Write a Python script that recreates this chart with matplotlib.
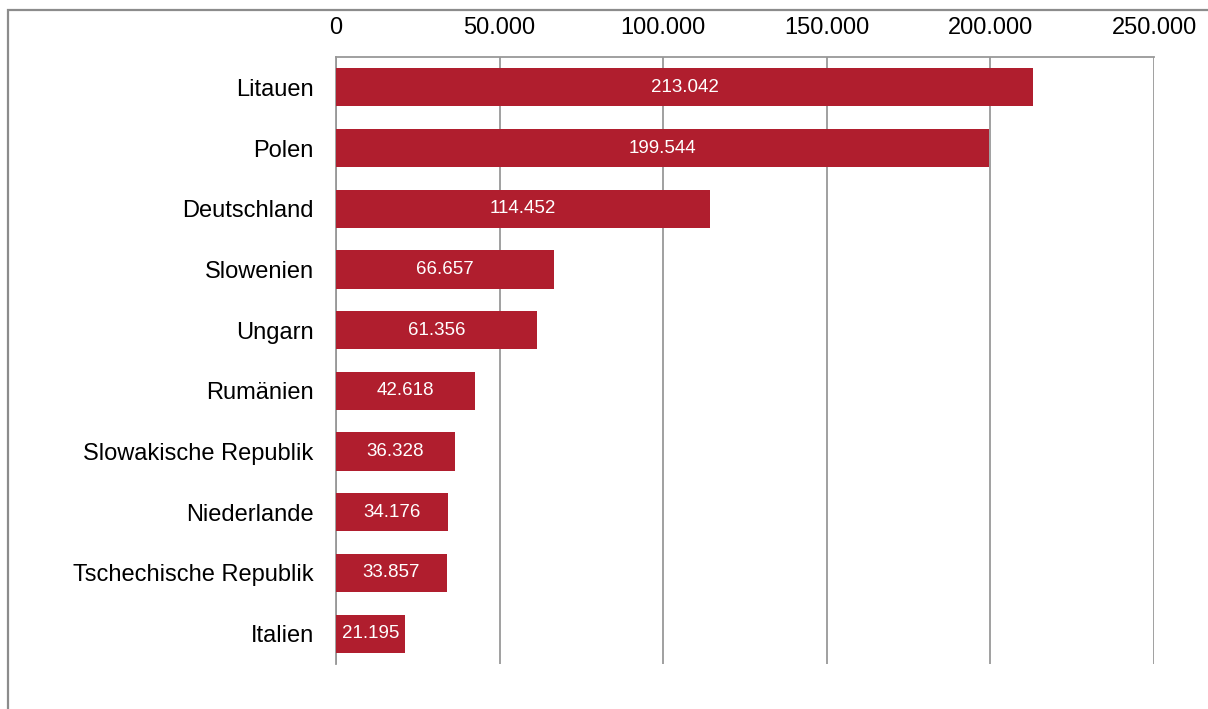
import matplotlib.pyplot as plt
from matplotlib.patches import Rectangle
from matplotlib.ticker import FuncFormatter

plt.rcParams['font.family'] = ['Liberation Sans', 'DejaVu Sans']

laender = ['Litauen', 'Polen', 'Deutschland', 'Slowenien', 'Ungarn', 'Rumänien',
           'Slowakische Republik', 'Niederlande', 'Tschechische Republik', 'Italien']
werte = [213042, 199544, 114452, 66657, 61356, 42618, 36328, 34176, 33857, 21195]
ticks = [0, 50000, 100000, 150000, 200000, 250000]


def punkt(v, pos=None):
    return f'{int(v):,}'.replace(',', '.')


fig = plt.figure(figsize=(12.08, 7.09), dpi=100)
ax = fig.add_axes([0.2781, 0.0635, 0.6772, 0.8561])

y = list(range(len(laender)))
ax.barh(y, werte, height=0.63, color='#B01E2E', zorder=3)
for yi, v in zip(y, werte):
    ax.text(v / 2, yi, punkt(v), ha='center', va='center', color='white',
            fontsize=13.5, zorder=4)

ax.set_ylim(len(laender) - 0.5, -0.5)
ax.set_xlim(0, 250000)
ax.set_yticks(y)
ax.set_yticklabels(laender, fontsize=17)
ax.set_xticks(ticks)
ax.xaxis.set_major_formatter(FuncFormatter(punkt))
ax.xaxis.tick_top()
ax.tick_params(axis='x', length=0, pad=13, labelsize=17)
ax.tick_params(axis='y', length=0, pad=16)
ax.grid(axis='x', color='#989898', linewidth=1.3, zorder=0)

for s in ['right', 'bottom']:
    ax.spines[s].set_visible(False)
for s in ['top', 'left']:
    ax.spines[s].set_color('#989898')
    ax.spines[s].set_linewidth(1.3)

# Rahmen um das Diagramm
fig.patches.append(Rectangle((0.0066, -0.05), 1.2, 1.0359, transform=fig.transFigure,
                             fill=False, edgecolor='#8c8c8c', linewidth=1.6))

fig.savefig('out.png', dpi=100)
